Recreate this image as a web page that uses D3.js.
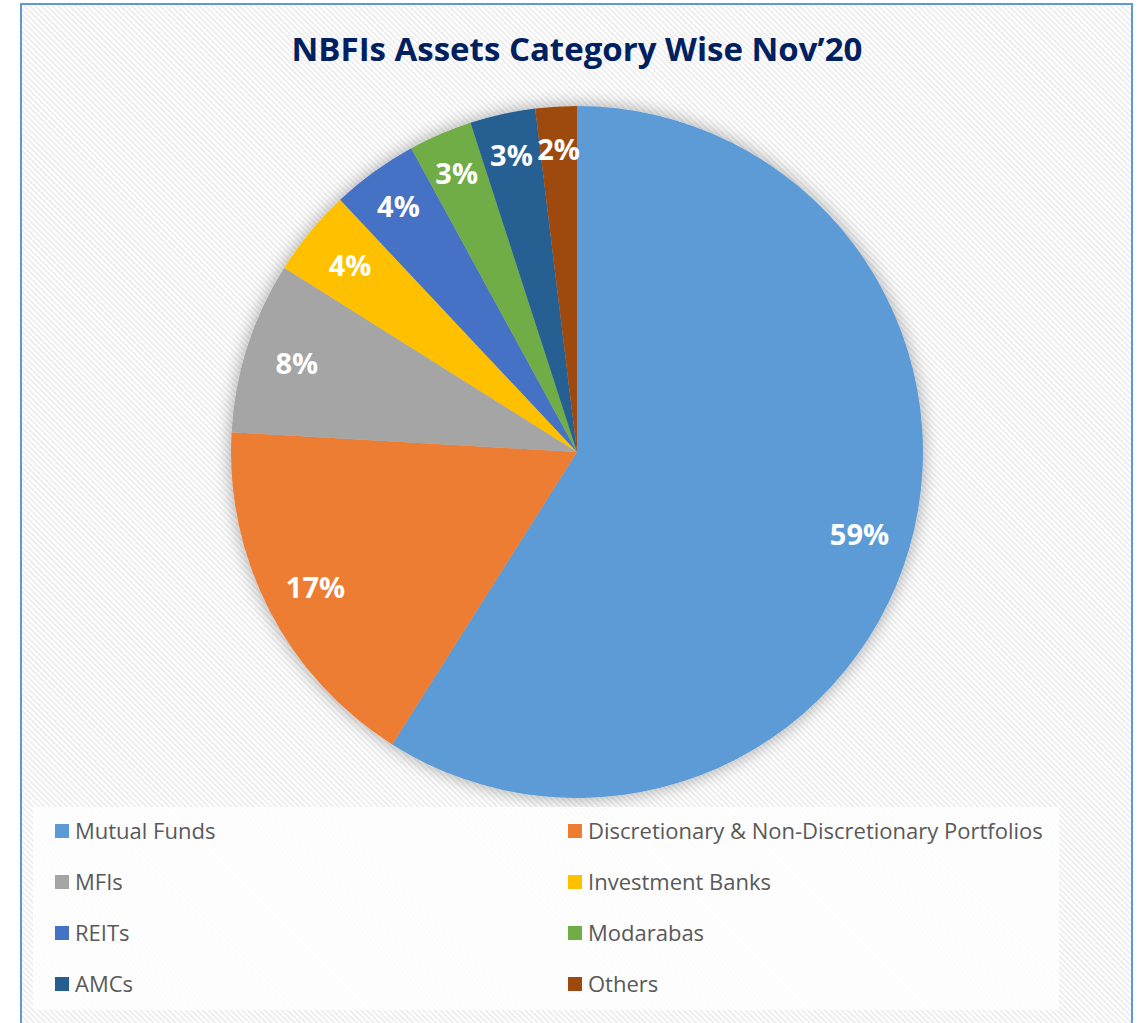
<!DOCTYPE html>
<html>
<head>
<meta charset="utf-8">
<script src="https://cdn.jsdelivr.net/npm/d3@7"></script>
<style>
  body { margin: 0; background: #fff; }
  svg { display: block; }
  .title { font-family: "Open Sans", sans-serif; font-weight: 700; fill: #002060; }
  .slice-label { font-family: "Open Sans", sans-serif; font-weight: 700; fill: #fff; }
  .legend-text { font-family: "Open Sans", sans-serif; fill: #595959; }
</style>
</head>
<body>
<div id="chart"></div>
<script>
// category names, in pie order (clockwise from 12 o'clock)
const categories = [
  "Mutual Funds",
  "Discretionary & Non-Discretionary Portfolios",
  "MFIs",
  "Investment Banks",
  "REITs",
  "Modarabas",
  "AMCs",
  "Others"
];
// share of total assets, %
const shares = [58.97, 16.94, 8.03, 4.06, 4.05, 2.97, 3.05, 1.93];
const colours = ["#5B9BD5", "#ED7D31", "#A5A5A5", "#FFC000", "#4472C4", "#70AD47", "#255E91", "#9E480E"];
const title = "NBFIs Assets Category Wise Nov\u201920";

const width = 1140, height = 1023;
const cx = 577, cy = 452, radius = 346;

const svg = d3.select("#chart").append("svg")
    .attr("width", width)
    .attr("height", height);

const defs = svg.append("defs");

// diagonal hatch background
const hatch = defs.append("pattern")
    .attr("id", "hatch")
    .attr("patternUnits", "userSpaceOnUse")
    .attr("width", 4)
    .attr("height", 4)
    .attr("patternTransform", "rotate(-45)");
hatch.append("rect").attr("width", 4).attr("height", 4).attr("fill", "#fff");
hatch.append("rect").attr("width", 2).attr("height", 4).attr("fill", "#eeeeee");

const shadow = defs.append("filter")
    .attr("id", "shadow")
    .attr("x", "-20%").attr("y", "-20%")
    .attr("width", "140%").attr("height", "140%");
shadow.append("feGaussianBlur")
    .attr("in", "SourceAlpha")
    .attr("stdDeviation", 9);
shadow.append("feOffset").attr("dx", 0).attr("dy", 0).attr("result", "blur");
shadow.append("feComponentTransfer")
    .append("feFuncA").attr("type", "linear").attr("slope", 0.35);
const merge = shadow.append("feMerge");
merge.append("feMergeNode");
merge.append("feMergeNode").attr("in", "SourceGraphic");

// frame
svg.append("rect")
    .attr("x", 21).attr("y", 4)
    .attr("width", 1111).attr("height", 1030)
    .attr("fill", "url(#hatch)")
    .attr("stroke", "#5B9BD5")
    .attr("stroke-width", 2);

svg.append("text")
    .attr("class", "title")
    .attr("x", 577)
    .attr("y", 61)
    .attr("text-anchor", "middle")
    .style("font-size", "33px")
    .text(title);

// pie
const data = categories.map((c, i) => ({ name: c, value: shares[i], colour: colours[i] }));
const pie = d3.pie().sort(null).value(d => d.value);
const arcs = pie(data);
const arc = d3.arc().innerRadius(0).outerRadius(radius);

const g = svg.append("g")
    .attr("transform", `translate(${cx},${cy})`);

g.append("g")
    .attr("filter", "url(#shadow)")
    .selectAll("path")
    .data(arcs)
    .enter().append("path")
    .attr("d", arc)
    .attr("fill", d => d.data.colour);

// narrow slices have their label pushed a little outwards
const labelArcWide = d3.arc().innerRadius(radius * 0.85).outerRadius(radius * 0.85);
const labelArcNarrow = d3.arc().innerRadius(radius * 0.88).outerRadius(radius * 0.88);

g.selectAll(".slice-label")
    .data(arcs)
    .enter().append("text")
    .attr("class", "slice-label")
    .attr("transform", d => {
        const a = d.data.value < 4.06 ? labelArcNarrow : labelArcWide;
        return `translate(${a.centroid(d)})`;
    })
    .attr("text-anchor", "middle")
    .attr("dominant-baseline", "central")
    .style("font-size", "29px")
    .text(d => Math.round(d.data.value) + "%");

// legend
svg.append("rect")
    .attr("x", 33).attr("y", 807)
    .attr("width", 1026).attr("height", 203)
    .attr("fill", "#fff")
    .attr("fill-opacity", 0.8);

const colX = d3.scalePoint().domain([0, 1]).range([55, 568]);
const rowY = d3.scaleLinear().domain([0, 3]).range([831, 984]);

const item = svg.selectAll(".legend-item")
    .data(data)
    .enter().append("g")
    .attr("class", "legend-item")
    .attr("transform", (d, i) => `translate(${colX(i % 2)},${rowY(Math.floor(i / 2))})`);

item.append("rect")
    .attr("x", 0).attr("y", -7)
    .attr("width", 14).attr("height", 14)
    .attr("fill", d => d.colour);

item.append("text")
    .attr("class", "legend-text")
    .attr("x", 20)
    .attr("dy", "0.35em")
    .style("font-size", "22px")
    .text(d => d.name);
</script>
</body>
</html>
